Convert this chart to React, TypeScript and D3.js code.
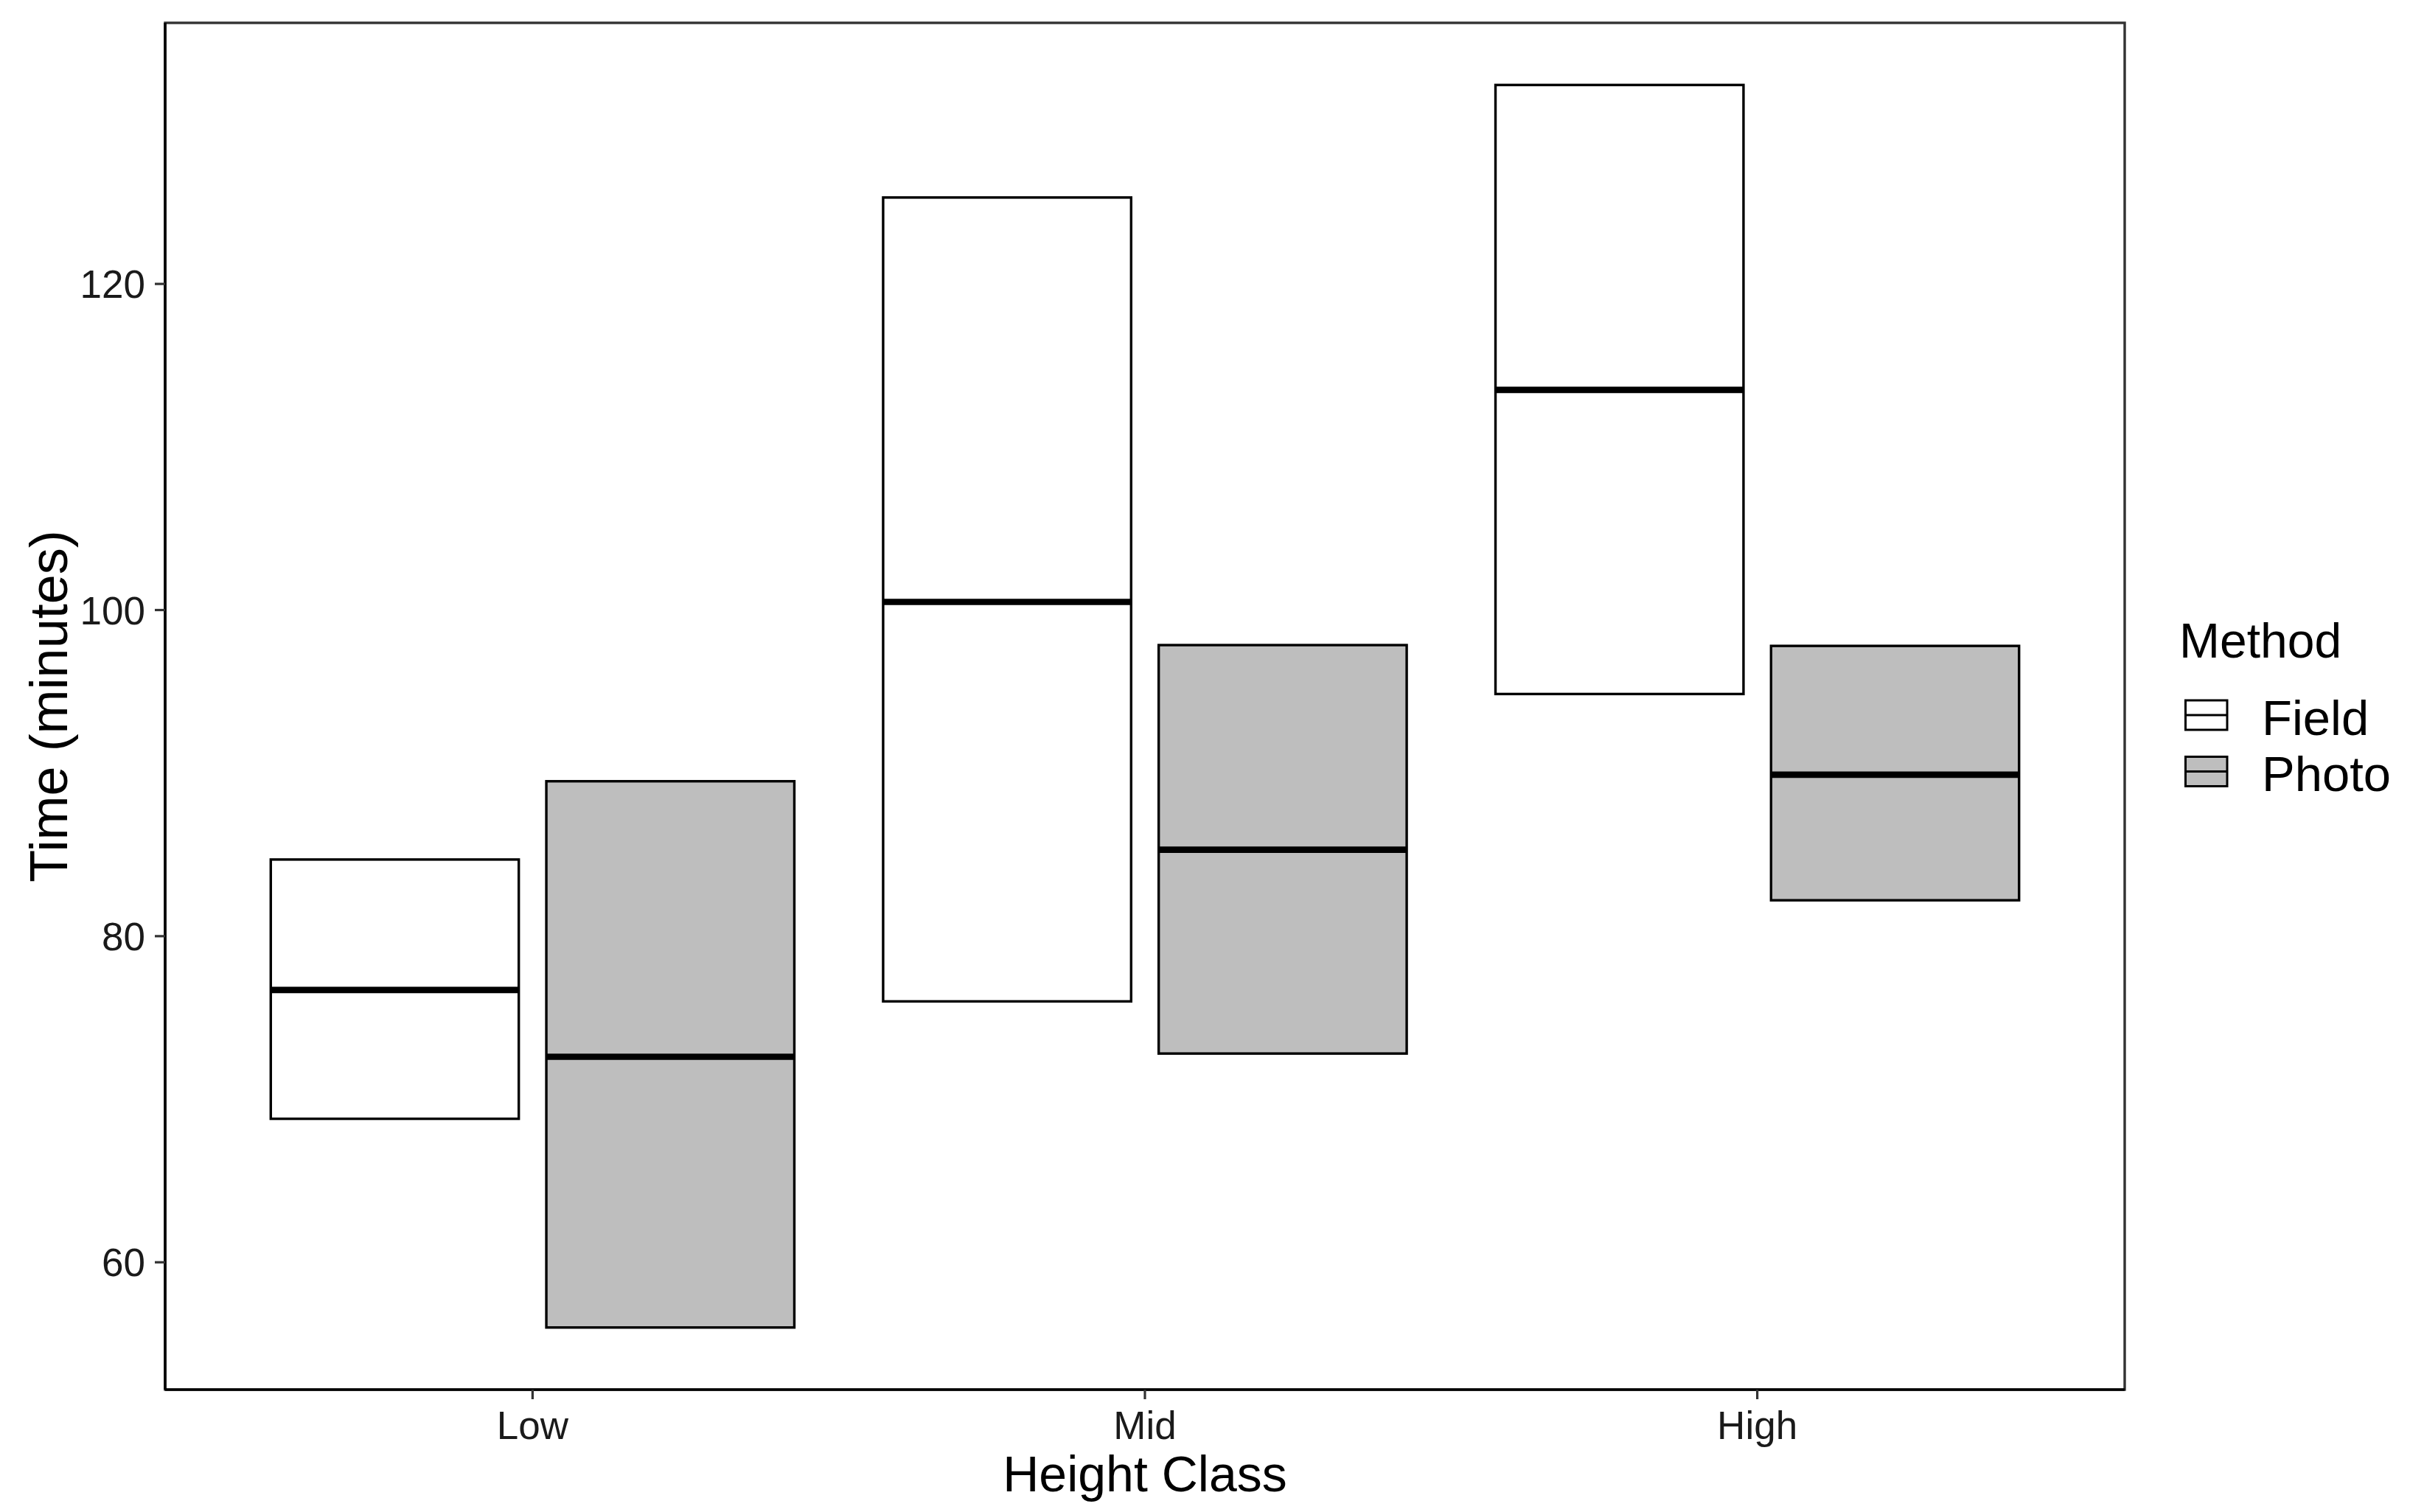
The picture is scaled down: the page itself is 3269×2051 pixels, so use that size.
import React from "react";
import * as d3 from "d3";

const categories = ["Low", "Mid", "High"];
const methods = ["Field", "Photo"];
const methodFill: Record<string, string> = { Field: "#FFFFFF", Photo: "#BEBEBE" };

const fieldLower = [68.8, 76.0, 94.85];
const fieldMiddle = [76.7, 100.5, 113.5];
const fieldUpper = [84.7, 125.3, 132.2];

const photoLower = [56.0, 72.8, 82.2];
const photoMiddle = [72.6, 85.3, 89.9];
const photoUpper = [89.5, 97.85, 97.8];

const yTicks = [60, 80, 100, 120];

const W = 3269;
const H = 2051;
const panel = { left: 224, right: 2882, top: 31, bottom: 1885 };
const FONT = "'Liberation Sans', Arial, Helvetica, sans-serif";

type Box = { cat: string; method: string; lower: number; middle: number; upper: number };

const boxes: Box[] = [];
categories.forEach((c, i) => {
  boxes.push({ cat: c, method: "Field", lower: fieldLower[i], middle: fieldMiddle[i], upper: fieldUpper[i] });
  boxes.push({ cat: c, method: "Photo", lower: photoLower[i], middle: photoMiddle[i], upper: photoUpper[i] });
});

export default function App() {
  const lo = d3.min(boxes, (b) => b.lower) as number;
  const hi = d3.max(boxes, (b) => b.upper) as number;
  const pad = (hi - lo) * 0.05;
  const y = d3.scaleLinear().domain([lo - pad, hi + pad]).range([panel.bottom, panel.top]);
  // discrete axis: positions 1..3 with 0.6 expansion each side
  const x = d3.scaleLinear().domain([0.4, categories.length + 0.6]).range([panel.left, panel.right]);
  const dodge = d3.scaleBand().domain(methods).range([-0.45, 0.45]).padding(0);
  const boxW = 0.405;

  const catPos = (c: string) => categories.indexOf(c) + 1;

  return (
    <svg width={W} height={H} style={{ position: "absolute", left: 0, top: 0, background: "#fff" }} xmlns="http://www.w3.org/2000/svg">
      <rect x={0} y={0} width={W} height={H} fill="#fff" />
      {/* boxes */}
      {boxes.map((b, i) => {
        const cx = catPos(b.cat) + (dodge(b.method) as number) + dodge.bandwidth() / 2;
        const x0 = x(cx - boxW / 2);
        const x1 = x(cx + boxW / 2);
        return (
          <g key={i}>
            <rect
              x={x0}
              y={y(b.upper)}
              width={x1 - x0}
              height={y(b.lower) - y(b.upper)}
              fill={methodFill[b.method]}
              stroke="#000"
              strokeWidth={3.4}
            />
            <line x1={x0} x2={x1} y1={y(b.middle)} y2={y(b.middle)} stroke="#000" strokeWidth={8.6} />
          </g>
        );
      })}
      {/* panel border */}
      <rect
        x={panel.left}
        y={panel.top}
        width={panel.right - panel.left}
        height={panel.bottom - panel.top}
        fill="none"
        stroke="#333"
        strokeWidth={3.4}
      />
      <line x1={panel.left} x2={panel.left} y1={panel.top} y2={panel.bottom} stroke="#000" strokeWidth={3.6} />
      <line x1={panel.left} x2={panel.right} y1={panel.bottom} y2={panel.bottom} stroke="#000" strokeWidth={3.6} />
      {/* y ticks */}
      {yTicks.map((t) => (
        <g key={t}>
          <line x1={panel.left - 14} x2={panel.left} y1={y(t)} y2={y(t)} stroke="#333" strokeWidth={3.2} />
          <text
            x={panel.left - 27}
            y={y(t)}
            dy="0.36em"
            textAnchor="end"
            fontFamily={FONT}
            fontSize={53}
            fill="#1a1a1a"
          >
            {t}
          </text>
        </g>
      ))}
      {/* x ticks */}
      {categories.map((c) => (
        <g key={c}>
          <line x1={x(catPos(c))} x2={x(catPos(c))} y1={panel.bottom} y2={panel.bottom + 13} stroke="#333" strokeWidth={3.2} />
          <text x={x(catPos(c))} y={1952} textAnchor="middle" fontFamily={FONT} fontSize={53} fill="#1a1a1a">
            {c}
          </text>
        </g>
      ))}
      {/* axis titles */}
      <text
        x={(panel.left + panel.right) / 2}
        y={2023}
        textAnchor="middle"
        fontFamily={FONT}
        fontSize={68}
        fill="#000"
      >
        Height Class
      </text>
      <text
        transform={`translate(91, ${(panel.top + panel.bottom) / 2}) rotate(-90)`}
        textAnchor="middle"
        fontFamily={FONT}
        fontSize={72}
        fill="#000"
      >
        Time (minutes)
      </text>
      {/* legend */}
      <text x={2956} y={892} fontFamily={FONT} fontSize={66} fill="#000">
        Method
      </text>
      {methods.map((m, i) => {
        const top = 950 + i * 76.5;
        const bottom = top + 40;
        return (
          <g key={m}>
            <rect x={2964.5} y={top} width={56.5} height={bottom - top} fill={methodFill[m]} stroke="#000" strokeWidth={3} />
            <line x1={2964.5} x2={3021} y1={(top + bottom) / 2} y2={(top + bottom) / 2} stroke="#000" strokeWidth={3} />
            <text x={3068} y={997 + i * 76} fontFamily={FONT} fontSize={67} fill="#000">
              {m}
            </text>
          </g>
        );
      })}
    </svg>
  );
}
